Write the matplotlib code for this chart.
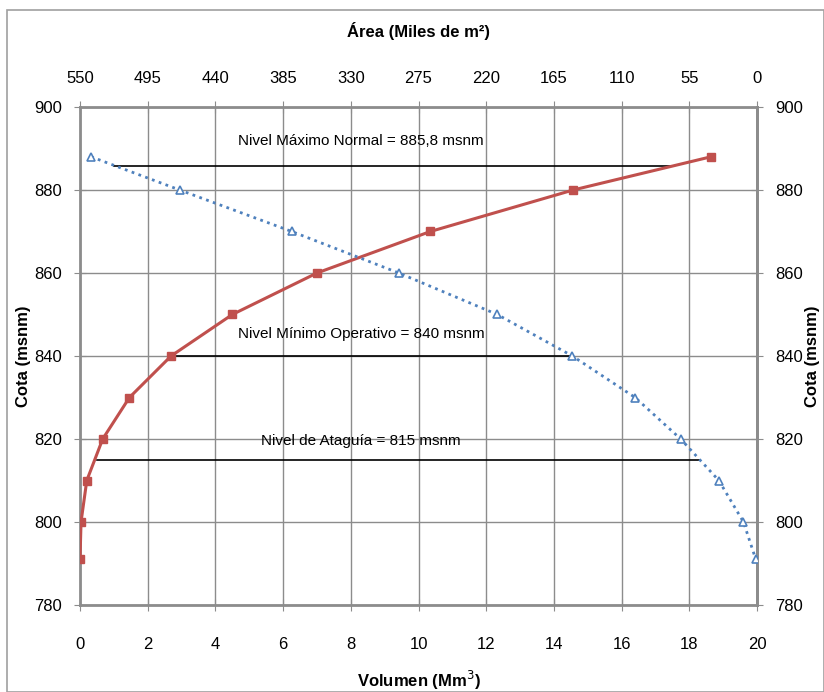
import matplotlib.pyplot as plt
from matplotlib.patches import Rectangle

plt.rcParams['font.family'] = ['Liberation Sans', 'DejaVu Sans']

# curva cota - volumen
cota_vol = [791, 800, 810, 820, 830, 840, 850, 860, 870, 880, 888]
volumen = [0.0, 0.03, 0.2, 0.67, 1.46, 2.69, 4.5, 7.0, 10.35, 14.57, 18.64]

# curva cota - area
cota_area = [888, 880, 870, 860, 850, 840, 830, 820, 810, 800, 791]
area = [541, 469, 378, 291, 211, 150, 99, 62, 31, 11, 1]

# niveles de referencia
niveles = [885.8, 840, 815]
niveles_x0 = [1.0, 2.75, 0.5]
niveles_x1 = [17.5, 14.55, 18.3]
niveles_txt = ["Nivel Máximo Normal = 885,8 msnm",
               "Nivel Mínimo Operativo = 840 msnm",
               "Nivel de Ataguía = 815 msnm"]
niveles_txt_y = [891.8, 845.2, 819.6]

red = "#C0504D"
blue = "#4F81BD"
grid_c = "#8C8C8C"
fs = 12

fig = plt.figure(figsize=(8.24, 6.92), dpi=100)
fig.patches.append(Rectangle((0.008, 0.0), 0.992, 0.986, transform=fig.transFigure,
                             fill=False, edgecolor="#A0A0A0", linewidth=1.2))
ax = fig.add_axes([0.0971, 0.1257, 0.8216, 0.7197])

ax.set_xlim(0, 20)
ax.set_ylim(780, 900)
ax.set_xticks(range(0, 21, 2))
ax.set_yticks(range(780, 901, 20))
ax.grid(True, color=grid_c, linewidth=1.0)
ax.set_axisbelow(True)
for s in ax.spines.values():
    s.set_color(grid_c)
    s.set_linewidth(2)
ax.spines['top'].set_visible(False)
ax.tick_params(axis='x', direction='inout', length=8, color=grid_c, labelsize=fs, pad=19)
ax.tick_params(axis='y', direction='inout', length=8, color=grid_c, labelsize=fs, pad=9)

for y, x0, x1, t, ty in zip(niveles, niveles_x0, niveles_x1, niveles_txt, niveles_txt_y):
    ax.plot([x0, x1], [y, y], color="black", linewidth=1.2, zorder=3)
    ax.text(8.3, ty, t, fontsize=11, ha='center', va='center', zorder=4)

ax.plot(volumen, cota_vol, color=red, linewidth=2.2, marker='s', markersize=5.5,
        markerfacecolor=red, markeredgecolor=red, zorder=5)

ax.set_xlabel("Volumen (Mm$^3$)", fontsize=fs, fontweight='bold')
ax.xaxis.set_label_coords(0.5, -0.128)

ax2 = ax.twiny()
ax2.set_xlim(550, 0)
ax2.set_xticks(range(550, -1, -55))
ax2.plot(area, cota_area, color=blue, linewidth=2, linestyle=(0, (1, 1.6)),
         marker='^', markersize=5.5, markerfacecolor='white', markeredgecolor=blue,
         markeredgewidth=1.2, zorder=5)
for s in ax2.spines.values():
    s.set_visible(False)
ax2.spines['top'].set_visible(True)
ax2.spines['top'].set_color(grid_c)
ax2.spines['top'].set_linewidth(2)
ax2.tick_params(direction='inout', length=8, color=grid_c, labelsize=fs, pad=11)
ax2.set_xlabel("Área (Miles de m²)", fontsize=fs, fontweight='bold')
ax2.xaxis.set_label_coords(0.5, 1.14)

ax3 = ax.secondary_yaxis('right')
ax3.set_yticks(range(780, 901, 20))
ax3.tick_params(direction='inout', length=8, color=grid_c, labelsize=fs, pad=9)
ax3.spines['right'].set_color(grid_c)
ax3.spines['right'].set_linewidth(2)

for xpx in (24, 812):
    fig.text(xpx / 824, 1 - 356 / 692, "Cota (msnm)", fontsize=fs, fontweight='bold',
             rotation=90, ha='center', va='center')

fig.savefig("out.png", dpi=100)
